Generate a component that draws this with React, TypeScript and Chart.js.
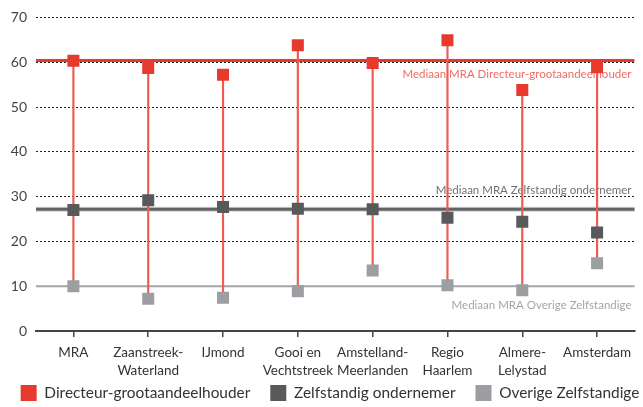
import React, { useEffect, useRef } from "react";
import { Chart, registerables } from "chart.js";

Chart.register(...registerables);

const CATEGORIES: string[][] = [
  ["MRA"],
  ["Zaanstreek-", "Waterland"],
  ["IJmond"],
  ["Gooi en", "Vechtstreek"],
  ["Amstelland-", "Meerlanden"],
  ["Regio", "Haarlem"],
  ["Almere-", "Lelystad"],
  ["Amsterdam"],
];

const DGA = [60.3, 58.7, 57.2, 63.8, 59.8, 64.9, 53.8, 58.9];
const ZELFSTANDIG = [27.0, 29.2, 27.7, 27.3, 27.2, 25.3, 24.4, 22.0];
const OVERIGE = [10.0, 7.2, 7.4, 8.9, 13.5, 10.2, 9.1, 15.1];

const SERIES_NAMES = ["Directeur-grootaandeelhouder", "Zelfstandig ondernemer", "Overige Zelfstandige"];
const MEDIAN_VALUES = [60.4, 27.2, 10.0];
const MEDIAN_LABELS = [
  "Mediaan MRA Directeur-grootaandeelhouder",
  "Mediaan MRA Zelfstandig ondernemer",
  "Mediaan MRA Overige Zelfstandige",
];

const Y_MIN = 0;
const Y_MAX = 70;
const Y_STEP = 10;

const RED = "#e63a2f";
const DARK = "#58595b";
const LIGHT = "#9d9ea1";
const STEM = "#ef5b51";
const FONT = "Lato, 'Open Sans', sans-serif";

const medianPlugin = {
  id: "medianLines",
  afterLayout(chart: any) {
    const lg = chart.legend;
    if (lg) {
      lg.top -= 16;
      lg.bottom -= 16;
    }
  },
  beforeDatasetsDraw(chart: any) {
    const { ctx, chartArea, scales } = chart;
    const y = scales.y;
    const left = chartArea.left;
    const right = chartArea.right;
    const styles = [
      { halo: null, color: RED, width: 3, text: "#ef6d64", off: 14 },
      { halo: "#d4d4d5", color: "#636466", width: 3, text: "#6f7072", off: -19 },
      { halo: null, color: "#a3a4a7", width: 2, text: "#a4a5a8", off: 19.5 },
    ];
    ctx.save();
    MEDIAN_VALUES.forEach((v, i) => {
      const s = styles[i];
      const py = y.getPixelForValue(v);
      if (s.halo) {
        ctx.strokeStyle = s.halo;
        ctx.lineWidth = s.width + 2;
        ctx.beginPath();
        ctx.moveTo(left, py);
        ctx.lineTo(right, py);
        ctx.stroke();
      }
      ctx.strokeStyle = s.color;
      ctx.lineWidth = s.width;
      ctx.beginPath();
      ctx.moveTo(left, py);
      ctx.lineTo(right, py);
      ctx.stroke();
      ctx.fillStyle = s.text;
      ctx.font = `11.5px ${FONT}`;
      ctx.textAlign = "right";
      ctx.textBaseline = "middle";
      ctx.fillText(MEDIAN_LABELS[i], right - 3, py + s.off);
    });
    ctx.restore();
  },
};

export default function App() {
  const ref = useRef<HTMLCanvasElement | null>(null);

  useEffect(() => {
    if (!ref.current) return;
    const pointDs = (label: string, data: number[], color: string) => ({
      type: "line" as const,
      label,
      data,
      showLine: false,
      pointStyle: "rect",
      pointRadius: 8.5,
      pointHoverRadius: 8.5,
      pointBorderWidth: 0,
      backgroundColor: color,
      borderColor: color,
      pointBackgroundColor: color,
      borderWidth: 0,
    });
    const chart = new Chart(ref.current, {
      type: "bar",
      data: {
        labels: CATEGORIES as any,
        datasets: [
          pointDs(SERIES_NAMES[0], DGA, RED),
          pointDs(SERIES_NAMES[1], ZELFSTANDIG, DARK),
          pointDs(SERIES_NAMES[2], OVERIGE, LIGHT),
          {
            type: "bar" as const,
            label: "stem",
            data: DGA.map((d, i) => [OVERIGE[i], d]) as any,
            backgroundColor: STEM,
            borderWidth: 0,
            barThickness: 1.5,
          },
        ] as any,
      },
      options: {
        responsive: false,
        animation: false,
        devicePixelRatio: 1,
        layout: { padding: { left: 0, right: -17, top: 15, bottom: -20 } },
        plugins: {
          tooltip: { enabled: false },
          legend: {
            position: "bottom",
            labels: {
              filter: (item: any) => item.datasetIndex < 3,
              boxWidth: 16,
              boxHeight: 16,
              padding: 20,
              color: "#333",
              font: { family: FONT, size: 15.4 },
            },
          },
        },
        scales: {
          x: {
            offset: true,
            grid: {
              display: true,
              drawOnChartArea: false,
              drawTicks: true,
              tickLength: 6,
              offset: false,
              color: "#444",
              lineWidth: 1.5,
            },
            border: { display: true, color: "#444", width: 2 },
            ticks: {
              color: "#333",
              padding: 7,
              maxRotation: 0,
              autoSkip: false,
              font: { family: FONT, size: 13.5, lineHeight: 1.33 },
            },
            afterFit: (s: any) => {
              s.height = 50;
            },
          },
          y: {
            min: Y_MIN,
            max: Y_MAX,
            ticks: {
              stepSize: Y_STEP,
              color: "#444",
              padding: 9,
              font: { family: FONT, size: 14 },
            },
            grid: { color: "#222", lineWidth: 1, drawTicks: false },
            border: { display: false, dash: [2, 2] },
            afterFit: (s: any) => {
              s.width = 36;
            },
          },
          yRightSpace: {
            position: "right",
            display: true,
            min: Y_MIN,
            max: Y_MAX,
            ticks: { display: false },
            grid: { display: false, drawTicks: false },
            border: { display: false },
            afterFit: (s: any) => {
              s.width = 24;
            },
          },
        },
      } as any,
      plugins: [medianPlugin],
    });
    return () => chart.destroy();
  }, []);

  return (
    <div style={{ position: "fixed", left: 0, top: 0, width: 643, height: 407, overflow: "hidden", background: "#fff" }}>
      <canvas ref={ref} width={643} height={407} style={{ display: "block" }} />
    </div>
  );
}
